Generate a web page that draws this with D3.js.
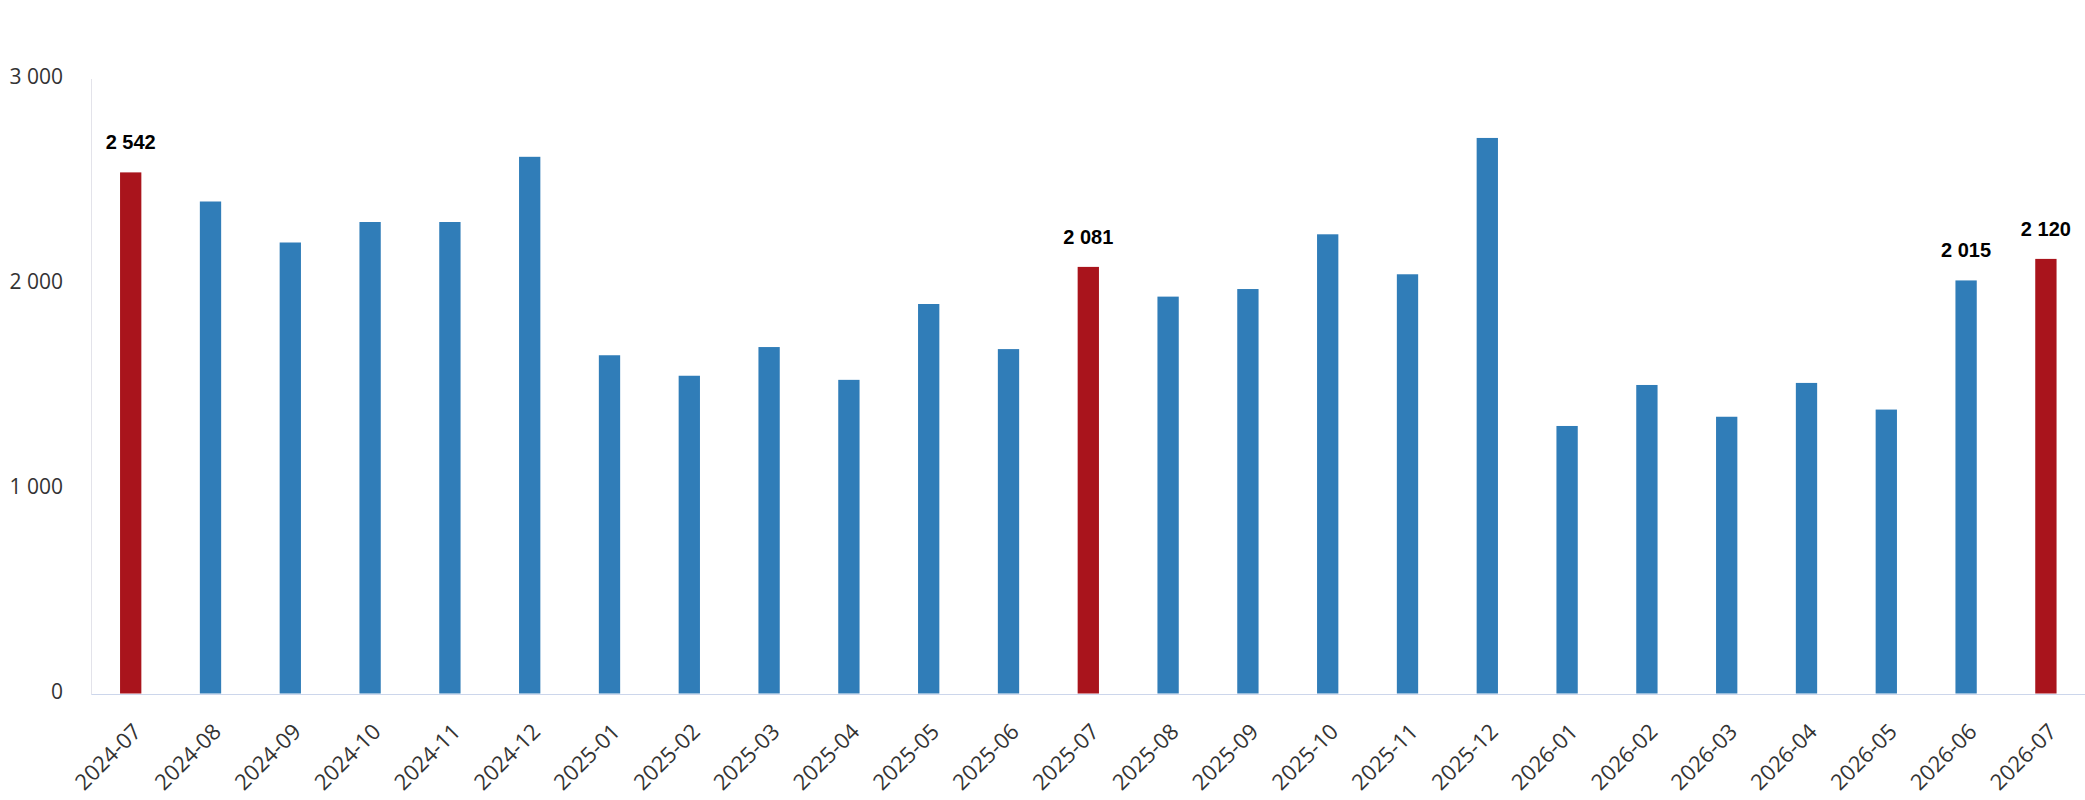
<!DOCTYPE html>
<html>
<head>
<meta charset="utf-8">
<title>Monthly chart</title>
<script src="https://cdn.jsdelivr.net/npm/d3@7"></script>
<style>
  html, body { margin: 0; padding: 0; background: #fff; }
  .axis text { font-family: 'Open Sans', sans-serif; fill: #333; }
  .label { font-family: 'Liberation Sans', Arial, sans-serif; font-weight: bold; fill: #000; }
</style>
</head>
<body>
<div id="chart"></div>
<script>
'use strict';

// months on the x axis
var months = [
  '2024-07', '2024-08', '2024-09', '2024-10', '2024-11', '2024-12',
  '2025-01', '2025-02', '2025-03', '2025-04', '2025-05', '2025-06',
  '2025-07', '2025-08', '2025-09', '2025-10', '2025-11', '2025-12',
  '2026-01', '2026-02', '2026-03', '2026-04', '2026-05', '2026-06',
  '2026-07'
];

// values
var values = [
  2542, 2400, 2200, 2300, 2300, 2618,
  1650, 1550, 1690, 1530, 1900, 1680,
  2081, 1936, 1973, 2240, 2045, 2710,
  1305, 1505, 1350, 1515, 1385, 2015,
  2120
];

// bars drawn in red, and bars carrying a value label
var highlighted = [ '2024-07', '2025-07', '2026-07' ];
var labelled = [ '2024-07', '2025-07', '2026-06', '2026-07' ];

var yTicks = [ 0, 1000, 2000, 3000 ];

(function() {
  var width = 2085,
    height = 800,
    plotLeft = 90.8,
    plotRight = 2085.8,
    plotTop = 78.5,
    plotBottom = 693.5;

  var data = months.map(function( m, i ) {
    return { month: m, value: values[ i ] };
  });

  var fmt = d3.formatLocale({
    decimal: ',',
    thousands: ' ',
    grouping: [ 3 ],
    currency: [ '', '' ]
  }).format( ',' );

  var x = d3.scaleBand()
    .domain( months )
    .range( [ plotLeft, plotRight ] )
    .paddingInner( 0.733 )
    .paddingOuter( 0.3665 );

  var y = d3.scaleLinear()
    .domain( [ 0, 3000 ] )
    .range( [ plotBottom, plotTop ] );

  var svg = d3.select( '#chart' )
    .append( 'svg' )
    .attr( 'width', width )
    .attr( 'height', height );

  // y axis
  var yAxis = svg.append( 'g' )
    .attr( 'class', 'axis y' )
    .attr( 'transform', 'translate(91,0)' )
    .call( d3.axisLeft( y )
      .tickValues( yTicks )
      .tickFormat( fmt )
      .tickSize( 0 )
      .tickPadding( 28 ) );

  yAxis.select( '.domain' ).attr( 'stroke', '#e3e3ea' );
  yAxis.selectAll( 'text' )
    .attr( 'dy', '0.25em' )
    .style( 'font-size', '21px' );

  // bars
  svg.selectAll( '.bar' )
    .data( data )
    .enter().append( 'rect' )
    .attr( 'class', 'bar' )
    .attr( 'x', function( d ) { return x( d.month ); })
    .attr( 'y', function( d ) { return y( d.value ); })
    .attr( 'width', x.bandwidth() )
    .attr( 'height', function( d ) { return y( 0 ) - y( d.value ); })
    .attr( 'fill', function( d ) {
      return highlighted.indexOf( d.month ) >= 0 ? '#a9141c' : '#307db8';
    });

  // x axis
  var xAxis = svg.append( 'g' )
    .attr( 'class', 'axis x' )
    .attr( 'transform', 'translate(0,' + ( plotBottom + 0.5 ) + ')' )
    .call( d3.axisBottom( x )
      .tickSize( 0 )
      .tickPadding( 0 ) );

  xAxis.select( '.domain' ).attr( 'stroke', '#ccd6eb' );
  xAxis.selectAll( 'text' )
    .attr( 'y', 0 )
    .attr( 'dy', 0 )
    .attr( 'text-anchor', 'end' )
    .attr( 'transform', 'translate(12,39) rotate(-45)' )
    .style( 'font-size', '22px' );

  // value labels
  svg.selectAll( '.label' )
    .data( data.filter(function( d ) {
      return labelled.indexOf( d.month ) >= 0;
    }) )
    .enter().append( 'text' )
    .attr( 'class', 'label' )
    .attr( 'x', function( d ) { return x( d.month ) + x.bandwidth() / 2; })
    .attr( 'y', function( d ) { return y( d.value ) - 23; })
    .attr( 'text-anchor', 'middle' )
    .style( 'font-size', '20px' )
    .text(function( d ) { return fmt( d.value ); });
})();
</script>
</body>
</html>
